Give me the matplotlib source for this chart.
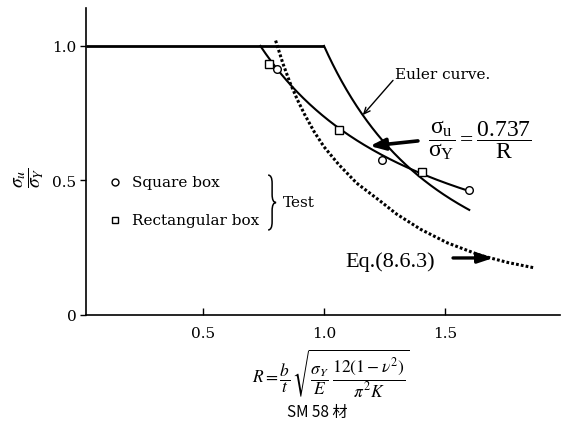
import numpy as np
import matplotlib
matplotlib.use("Agg")
import matplotlib.pyplot as plt
from matplotlib.path import Path
from matplotlib.patches import PathPatch

# ---- data -------------------------------------------------------------
# test results (R, sigma_u / sigma_Y)
square_R = [0.806, 1.240, 1.599]
square_ratio = [0.914, 0.576, 0.465]
rect_R = [0.773, 1.062, 1.405]
rect_ratio = [0.933, 0.688, 0.532]

# Eq.(8.6.3) curve
eq_R = [0.80, 0.83, 0.86, 0.89, 0.92, 0.96, 1.00, 1.06, 1.135, 1.23,
        1.30, 1.40, 1.51, 1.645, 1.76, 1.87]
eq_ratio = [1.02, 0.935, 0.862, 0.80, 0.745, 0.68, 0.625, 0.56, 0.49, 0.425,
            0.375, 0.318, 0.268, 0.222, 0.195, 0.175]

# design curve sigma_u/sigma_Y = 0.737/R and Euler curve 1/R^2
design_coef = 0.737
design_R_end = 1.6
euler_R_start = 1.0
euler_R_end = 1.6

x_ticks = [0.5, 1.0, 1.5]
x_tick_labels = ["0.5", "1.0", "1.5"]
y_ticks = [0, 0.5, 1.0]
y_tick_labels = ["0", "0.5", "1.0"]

# ---- style ------------------------------------------------------------
plt.rcParams["mathtext.fontset"] = "custom"
plt.rcParams["mathtext.rm"] = "Liberation Serif"
plt.rcParams["mathtext.it"] = "Liberation Serif:italic"
plt.rcParams["mathtext.bf"] = "Liberation Serif:bold"
SERIF = "DejaVu Serif"

fig = plt.figure(figsize=(5.62, 4.39), dpi=100)
W, H = 562, 439
ax = fig.add_axes([86 / W, (H - 316) / H, (560 - 86) / W, (316 - 9) / H])
x_min, x_max = 0.0165, 1.975
ax.set_xlim(x_min, x_max)
ax.set_ylim(0, 1.141)

for s in ("top", "right"):
    ax.spines[s].set_visible(False)
for s in ("left", "bottom"):
    ax.spines[s].set_linewidth(1.2)

ax.set_xticks(x_ticks)
ax.set_xticklabels(x_tick_labels, family=SERIF, fontsize=11)
ax.set_yticks(y_ticks)
ax.set_yticklabels(y_tick_labels, family=SERIF, fontsize=11)
ax.tick_params(axis="x", direction="in", length=5, width=1, pad=8)
ax.tick_params(axis="y", direction="out", length=4, width=1, pad=3)

# ---- curves -----------------------------------------------------------
ax.plot([x_min, euler_R_start], [1.0, 1.0], color="black", lw=2.0,
        solid_capstyle="butt")
R_e = np.linspace(euler_R_start, euler_R_end, 200)
ax.plot(R_e, 1.0 / R_e ** 2, color="black", lw=1.5)

R_d = np.linspace(design_coef, design_R_end, 200)
ax.plot(R_d, design_coef / R_d, color="black", lw=1.5)

ax.plot(eq_R, eq_ratio, color="black", lw=2.2, ls=(0, (0.9, 0.7)),
        dash_capstyle="butt")

# test points
ax.plot(square_R, square_ratio, ls="none", marker="o", ms=5.5, mfc="white",
        mec="black", mew=1.0, zorder=5)
ax.plot(rect_R, rect_ratio, ls="none", marker="s", ms=5.5, mfc="white",
        mec="black", mew=1.0, zorder=5)

# ---- legend block -----------------------------------------------------
ax.plot([0.136], [0.494], ls="none", marker="o", ms=5, mfc="white",
        mec="black", mew=1.0)
ax.plot([0.136], [0.353], ls="none", marker="s", ms=5, mfc="white",
        mec="black", mew=1.0)
ax.text(0.205, 0.494, "Square box", family=SERIF, fontsize=11,
        va="center", ha="left")
ax.text(0.205, 0.353, "Rectangular box", family=SERIF, fontsize=11,
        va="center", ha="left")

# curly brace
xl, xr = 0.769, 0.802
xm = (xl + xr) / 2
yt, yb = 0.520, 0.316
ym = (yt + yb) / 2
d = 0.03
verts = [(xl, yt), (xm, yt), (xm, yt - d),
         (xm, ym + d),
         (xm, ym), (xr, ym),
         (xm, ym), (xm, ym - d),
         (xm, yb + d),
         (xm, yb), (xl, yb)]
codes = [Path.MOVETO, Path.CURVE3, Path.CURVE3,
         Path.LINETO,
         Path.CURVE3, Path.CURVE3,
         Path.CURVE3, Path.CURVE3,
         Path.LINETO,
         Path.CURVE3, Path.CURVE3]
ax.add_patch(PathPatch(Path(verts, codes), fill=False, lw=1.1,
                       edgecolor="black"))
ax.text(0.83, 0.42, "Test", family=SERIF, fontsize=11, va="center",
        ha="left")

# ---- annotations ------------------------------------------------------
ax.text(1.293, 0.896, "Euler curve.", family=SERIF, fontsize=11,
        va="center", ha="left")
ax.annotate("", xy=(1.16, 0.743), xytext=(1.285, 0.872),
            arrowprops=dict(arrowstyle="->,head_length=0.45,head_width=0.2",
                            lw=1.0, color="black", shrinkA=0, shrinkB=0))

ax.text(1.43, 0.654,
        r"$\dfrac{\mathrm{\sigma_u}}{\mathrm{\sigma_Y}}=\dfrac{0.737}{\mathrm{R}}$",
        fontsize=17, math_fontfamily="custom", va="center", ha="left")
ax.annotate("", xy=(1.19, 0.628), xytext=(1.388, 0.647),
            arrowprops=dict(arrowstyle="-|>,head_length=0.9,head_width=0.35",
                            lw=2.6, color="black", shrinkA=0, shrinkB=0))

ax.text(1.087, 0.20, "Eq.(8.6.3)", family="Liberation Serif", fontsize=16,
        va="center", ha="left")
ax.annotate("", xy=(1.70, 0.212), xytext=(1.533, 0.212),
            arrowprops=dict(arrowstyle="-|>,head_length=0.9,head_width=0.3",
                            lw=2.4, color="black", shrinkA=0, shrinkB=0))

# ---- axis titles ------------------------------------------------------
fig.text(29 / W, (H - 178) / H, r"$\dfrac{\sigma_u}{\sigma_Y}$",
         math_fontfamily="stix", fontsize=14, rotation=90,
         ha="center", va="center")
fig.text(331 / W, (H - 374) / H,
         r"$R=\dfrac{b}{t}\,\sqrt{\dfrac{\sigma_Y}{E}\;\dfrac{12(1-\nu^2)}{\pi^2 K}}$",
         math_fontfamily="stix", fontsize=12.5, ha="center", va="center")
fig.text(317 / W, (H - 412) / H, "SM 58 材",
         family=["Noto Sans CJK JP", "DejaVu Sans"], fontsize=11,
         ha="center", va="center")

fig.savefig("out.png", dpi=100, facecolor="white")
